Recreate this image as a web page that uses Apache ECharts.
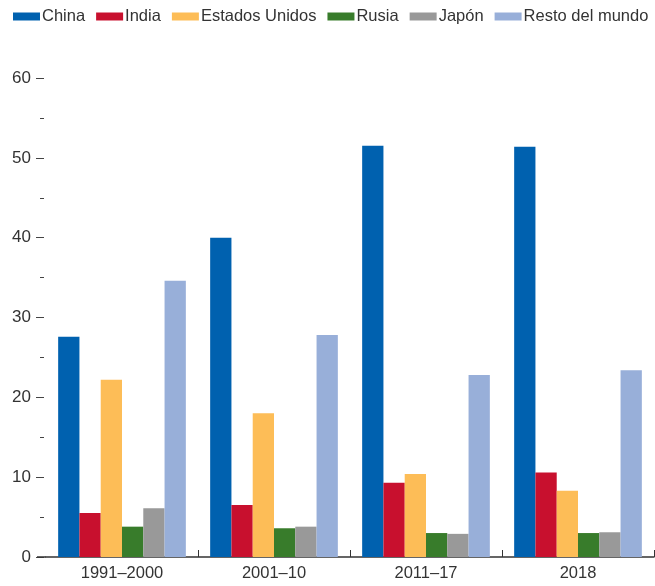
<!DOCTYPE html>
<html>
<head>
<meta charset="utf-8">
<script src="https://cdn.jsdelivr.net/npm/echarts@6/dist/echarts.min.js"></script>
<style>
html,body{margin:0;padding:0;background:#fff;}
#chart{width:655px;height:586px;}
</style>
</head>
<body>
<div id="chart"></div>
<script>
const categories = ['1991–2000', '2001–10', '2011–17', '2018'];
const seriesNames = ['China', 'India', 'Estados Unidos', 'Rusia', 'Japón', 'Resto del mundo'];
const china = [27.6, 40.0, 51.5, 51.4];
const india = [5.5, 6.5, 9.3, 10.6];
const estadosUnidos = [22.2, 18.0, 10.4, 8.3];
const rusia = [3.8, 3.6, 3.0, 3.0];
const japon = [6.1, 3.8, 2.9, 3.1];
const resto = [34.6, 27.8, 22.8, 23.4];
const colors = ['#0061AF', '#C8102E', '#FDBD57', '#387C2B', '#999999', '#98AFD9'];
const yTicks = [0, 10, 20, 30, 40, 50, 60];

const FONT = '"Liberation Sans", Arial, sans-serif';
const TXT = '#333333';
const allData = [china, india, estadosUnidos, rusia, japon, resto];

const chart = echarts.init(document.getElementById('chart'), null, {renderer: 'canvas'});
chart.setOption({
  animation: false,
  color: colors,
  textStyle: {fontFamily: FONT},
  legend: {
    left: 13, top: 8, width: 642, padding: 0, itemGap: 11, itemWidth: 27, itemHeight: 8,
    icon: 'rect',
    data: seriesNames,
    textStyle: {fontFamily: FONT, fontSize: 16.5, color: TXT, padding: [0, 0, 0, -3]}
  },
  grid: {left: 46, right: 1, top: 78, bottom: 29, containLabel: false},
  xAxis: {
    type: 'category',
    data: categories,
    axisLine: {show: true, lineStyle: {color: '#333', width: 1.5}},
    axisTick: {show: true, inside: true, length: 7, interval: function (i) { return i > 0; }, lineStyle: {color: '#333', width: 1}},
    axisLabel: {fontFamily: FONT, fontSize: 16.5, color: TXT, margin: 8}
  },
  yAxis: {
    type: 'value', min: yTicks[0], max: yTicks[yTicks.length - 1], interval: 10,
    offset: 2,
    axisLine: {show: false},
    splitLine: {show: false},
    axisTick: {show: true, length: 8, lineStyle: {color: '#444', width: 1}},
    minorTick: {show: true, splitNumber: 2, length: 4, lineStyle: {color: '#444', width: 1}},
    axisLabel: {fontFamily: FONT, fontSize: 17, color: TXT, margin: 13}
  },
  series: seriesNames.map((n, i) => ({
    name: n, type: 'bar', data: allData[i],
    barGap: '0%', barCategoryGap: '16%'
  })),
  graphic: [{
    type: 'line', shape: {x1: 37, y1: 557, x2: 46, y2: 557},
    style: {stroke: '#333', lineWidth: 1.5}, z: 100
  }]
});
</script>
</body>
</html>
